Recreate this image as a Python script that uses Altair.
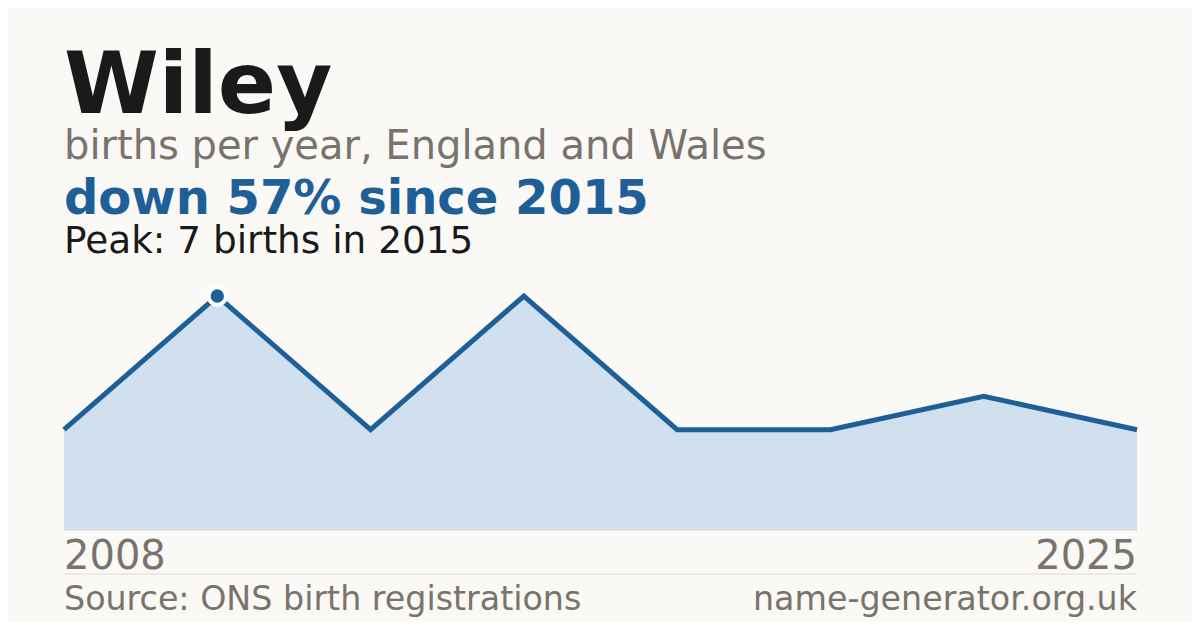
import altair as alt
import pandas as pd

# ---- data ----
years = ["2008", "2015", "2016", "2017", "2018", "2019", "2022", "2025"]
births = [3, 7, 3, 7, 3, 3, 4, 3]

title_text = ["Wiley"]
subtitle_text = ["births per year, England and Wales"]
change_text = ["down 57% since 2015"]
peak_text = ["Peak: 7 births in 2015"]
source_text = ["Source: ONS birth registrations"]
site_text = ["name-generator.org.uk"]

BG = "#FAF9F5"
BLUE = "#1F5F98"
FILL = "#D0E0EF"
GRAY = "#78736C"
DARK = "#1A1A1A"
RULE = "#DCDAD3"
FONT = "DejaVu Sans"

W, H = 1073, 234

df = pd.DataFrame({"year": years, "births": births})

xs = alt.Scale(type="point", padding=0)
ys = alt.Scale(domain=[0, 7], nice=False, zero=True)

base = alt.Chart(df)
X = alt.X("year:O", scale=xs, axis=None, sort=years)
Y = alt.Y("births:Q", scale=ys, axis=None)

area = base.mark_area(color=FILL, opacity=1).encode(x=X, y=Y)
line = base.mark_line(color=BLUE, strokeWidth=5).encode(x=X, y=Y)

peak = base.transform_filter(alt.datum.births == max(births)).transform_window(
    rn="row_number()"
).transform_filter(alt.datum.rn == 1).mark_point(
    filled=True, color=BLUE, size=300, stroke="white", strokeWidth=4, opacity=1
).encode(x=X, y=Y)

baseline = alt.Chart(pd.DataFrame({"v": [0]})).mark_rule(
    color=RULE, strokeWidth=1
).encode(x=alt.value(0), x2=alt.value(W), y=alt.value(H))

footer_rule = alt.Chart(pd.DataFrame({"v": [0]})).mark_rule(
    color=RULE, strokeWidth=1
).encode(x=alt.value(0), x2=alt.value(W), y=alt.value(278))


def txt(lines, y, size, color, weight="normal", align="left", x=0):
    return alt.Chart(pd.DataFrame({"t": lines})).mark_text(
        font=FONT, fontSize=size, color=color, fontWeight=weight,
        align=align, baseline="alphabetic"
    ).encode(text="t:N", x=alt.value(x), y=alt.value(y))


title = txt(title_text, -183, 86, DARK, "bold")
subtitle = txt(subtitle_text, -137, 40, GRAY)
change = txt(change_text, -82, 48, BLUE, "bold")
peakline = txt(peak_text, -43, 37.4, DARK)
source = txt(source_text, 314, 33.3, GRAY)
site = txt(site_text, 314, 33.3, GRAY, align="right", x=W)

first_lbl = base.transform_filter(alt.datum.year == years[0]).mark_text(
    font=FONT, fontSize=40, color=GRAY, align="left", baseline="alphabetic"
).encode(x=X, y=alt.value(273), text="year:N")
last_lbl = base.transform_filter(alt.datum.year == years[-1]).mark_text(
    font=FONT, fontSize=40, color=GRAY, align="right", baseline="alphabetic"
).encode(x=X, y=alt.value(273), text="year:N")

chart = alt.layer(
    area, baseline, line, peak, footer_rule,
    title, subtitle, change, peakline, source, site, first_lbl, last_lbl
).properties(
    width=W, height=H,
    autosize=alt.AutoSizeParams(type="none"),
    padding={"left": 56, "top": 288, "right": 55, "bottom": 92},
    background=BG,
).configure_view(stroke=None)

chart.save("out.html", embed_options={"renderer": "svg", "actions": False})
